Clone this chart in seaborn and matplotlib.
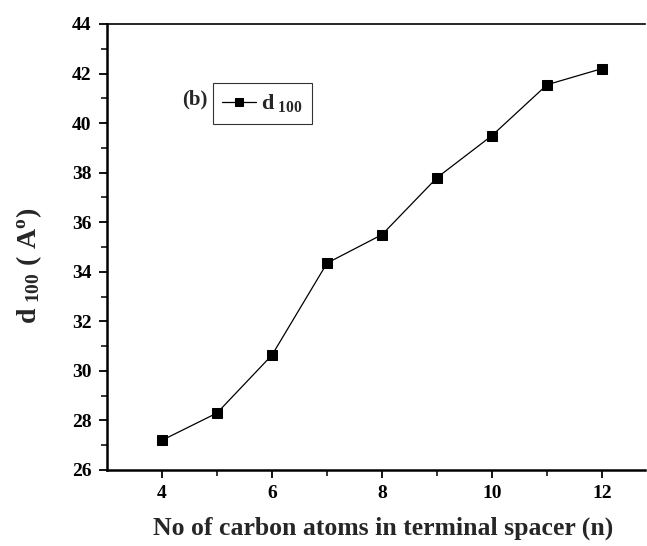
import matplotlib
matplotlib.use("Agg")
import matplotlib.pyplot as plt
import seaborn as sns
import pandas as pd

carbon_atoms = [4, 5, 6, 7, 8, 9, 10, 11, 12]
d100 = [27.2, 28.3, 30.64, 34.35, 35.5, 37.8, 39.5, 41.55, 42.2]

sns.set_theme(style="ticks")
plt.rcParams["font.family"] = ["Liberation Serif", "DejaVu Serif"]
plt.rcParams["font.weight"] = "bold"
plt.rcParams["mathtext.fontset"] = "custom"
plt.rcParams["mathtext.rm"] = "Liberation Serif:bold"
plt.rcParams["mathtext.bf"] = "Liberation Serif:bold"
plt.rcParams["mathtext.it"] = "Liberation Serif:bold"

df = pd.DataFrame({"n": carbon_atoms, "d100": d100})

fig = plt.figure(figsize=(6.47, 5.46), dpi=100)
ax = fig.add_axes([107 / 647, 76 / 546, (645 - 107) / 647, (470 - 24) / 546])

sns.lineplot(data=df, x="n", y="d100", ax=ax, color="black", linewidth=0.9,
             marker="s", markersize=7.5, markeredgecolor="black",
             markerfacecolor="black", label=r"$\mathrm{d}_{\ \mathrm{100}}$")

ax.set_xlim(3, 12.78)
ax.set_ylim(26, 44)
ax.set_xticks([4, 6, 8, 10, 12])
ax.set_xticks([5, 7, 9, 11], minor=True)
ax.set_yticks(range(26, 45, 2))
ax.set_yticks(range(27, 44, 2), minor=True)
ax.tick_params(axis="both", which="major", direction="out", length=6, width=1.3,
               labelsize=14, colors="black", pad=5)
ax.tick_params(axis="both", which="minor", direction="out", length=4, width=1.3)
ax.tick_params(top=False, right=False, which="both")
for lbl in ax.get_xticklabels() + ax.get_yticklabels():
    lbl.set_fontweight("bold")

for side in ["left", "bottom"]:
    ax.spines[side].set_linewidth(1.8)
    ax.spines[side].set_color("black")
ax.spines["top"].set_linewidth(1.2)
ax.spines["top"].set_color("black")
ax.spines["right"].set_visible(False)

ax.set_xlabel("No of carbon atoms in terminal spacer (n)", fontsize=18.5,
              fontweight="bold")
ax.xaxis.set_label_coords((383 - 107) / 538, -(535 - 470) / 446)
ax.xaxis.label.set_va("baseline")
ax.set_ylabel(r"$\mathrm{d}_{\ \mathrm{100}}\ (\ \mathrm{A}^{\mathrm{o}})$", fontsize=20)
ax.yaxis.set_label_coords(-(107 - 44) / 538, (470 - 266) / 446)

leg = ax.legend(loc="upper left", bbox_to_anchor=(106 / 538, (470 - 83) / 446),
                frameon=True, fancybox=False, edgecolor="black", fontsize=16,
                handlelength=1.5, handletextpad=0.25, borderpad=0.42,
                borderaxespad=0, markerscale=0.85)
leg.get_frame().set_linewidth(0.8)
ax.text((195 - 107) / 538, (470 - 99) / 446, "(b)", transform=ax.transAxes,
        fontsize=15, fontweight="bold", va="center", ha="center")

fig.savefig("out.png", dpi=100)
